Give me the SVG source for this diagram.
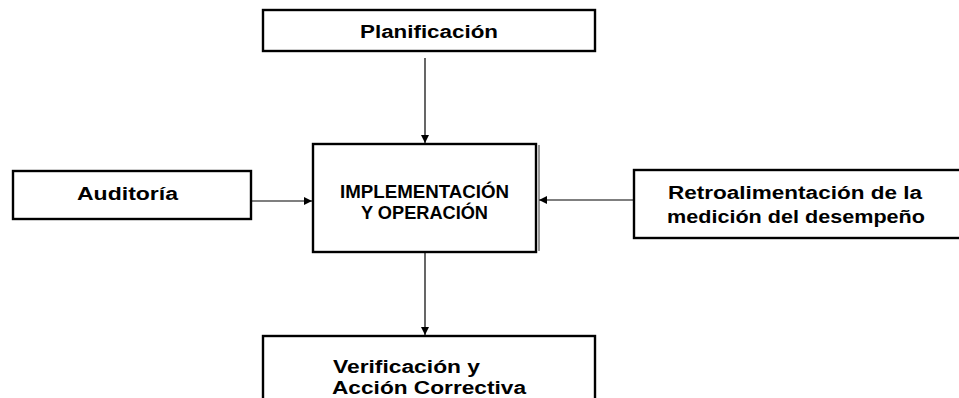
<svg xmlns="http://www.w3.org/2000/svg" width="959" height="398" viewBox="0 0 959 398">
<defs>
<style>
.box{fill:#fff;stroke:#000;stroke-width:2.4}
.t{font-family:"Liberation Sans",Arial,sans-serif;font-weight:bold;font-size:18px;fill:#000}
.c{stroke:#000;stroke-width:1.2;fill:none}
</style>
<marker id="ah" viewBox="0 0 10 10" refX="10" refY="5" markerWidth="8" markerHeight="8" markerUnits="userSpaceOnUse" orient="auto">
<path d="M0,0 L10,5 L0,10 Z" fill="#000"/>
</marker>
</defs>
<rect width="959" height="398" fill="#fff"/>
<g id="connectors">
<line class="c" x1="425" y1="58" x2="425" y2="143" marker-end="url(#ah)"/>
<line class="c" x1="251" y1="201" x2="312" y2="201" marker-end="url(#ah)"/>
<line class="c" x1="634" y1="200" x2="539" y2="200" marker-end="url(#ah)"/>
<line class="c" x1="425" y1="253" x2="425" y2="335" marker-end="url(#ah)"/>
</g>
<g id="planificacion">
<rect class="box" x="263" y="10" width="332" height="41"/>
<text class="t" x="360" y="38" textLength="138" lengthAdjust="spacingAndGlyphs">Planificación</text>
</g>
<g id="implementacion">
<rect class="box" x="313" y="144" width="223" height="108"/>
<line x1="539" y1="145" x2="539" y2="251" stroke="#333" stroke-width="1"/>
<text class="t" x="340" y="198" textLength="169" lengthAdjust="spacingAndGlyphs">IMPLEMENTACIÓN</text>
<text class="t" x="361" y="219" textLength="127" lengthAdjust="spacingAndGlyphs">Y OPERACIÓN</text>
</g>
<g id="auditoria">
<rect class="box" x="13" y="171" width="238" height="48"/>
<text class="t" x="77" y="200" textLength="101" lengthAdjust="spacingAndGlyphs">Auditoría</text>
</g>
<g id="retroalimentacion">
<rect class="box" x="634" y="170" width="330" height="68"/>
<text class="t" x="668" y="199" textLength="254" lengthAdjust="spacingAndGlyphs">Retroalimentación de la</text>
<text class="t" x="667" y="223" textLength="258" lengthAdjust="spacingAndGlyphs">medición del desempeño</text>
</g>
<g id="verificacion">
<rect class="box" x="263" y="336" width="332" height="70"/>
<text class="t" x="333" y="373" textLength="147" lengthAdjust="spacingAndGlyphs">Verificación y</text>
<text class="t" x="332" y="394" textLength="194" lengthAdjust="spacingAndGlyphs">Acción Correctiva</text>
</g>
</svg>
